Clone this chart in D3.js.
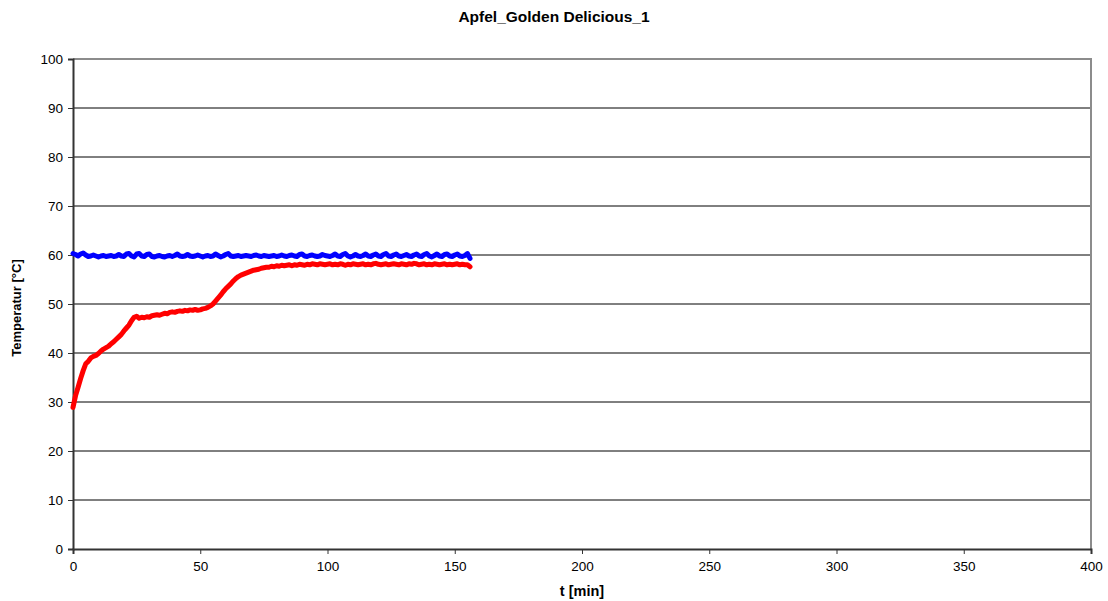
<!DOCTYPE html>
<html>
<head>
<meta charset="utf-8">
<script src="https://cdn.jsdelivr.net/npm/d3@7"></script>
<style>
  body { margin: 0; background: #fff; }
  svg { display: block; font-family: "Liberation Sans", Arial, sans-serif; }
</style>
</head>
<body>
<svg id="chart" width="1108" height="601"></svg>
<script>
// Chart text
const chartTitle = "Apfel_Golden Delicious_1";
const xTitle = "t [min]";
const yTitle = "Temperatur [°C]";

// Axis ticks
const xTicks = [0, 50, 100, 150, 200, 250, 300, 350, 400];
const yTicks = [0, 10, 20, 30, 40, 50, 60, 70, 80, 90, 100];

// Sample times, one reading per minute
const timeMin = d3.range(0, 157);

// Water bath temperature (°C)
const bathTemp = [
  60.3, 60.1, 59.8, 60.2, 60.4, 60.0, 59.7, 59.8, 60.0, 59.8,
  59.6, 59.8, 59.9, 59.7, 59.8, 59.9, 59.7, 59.8, 60.1, 59.8,
  59.7, 60.2, 60.3, 59.8, 59.6, 60.2, 60.3, 59.8, 59.7, 60.1,
  60.2, 59.7, 59.6, 59.8, 59.9, 59.7, 59.6, 59.8, 59.9, 59.7,
  59.9, 60.2, 59.8, 59.7, 59.8, 60.1, 59.8, 59.7, 59.8, 60.0,
  59.8, 59.6, 59.8, 59.9, 59.7, 59.8, 60.2, 59.9, 59.6, 59.8,
  60.1, 60.3, 59.8, 59.7, 59.8, 59.9, 59.7, 59.8, 59.9, 59.8,
  59.7, 59.9, 60.0, 59.8, 59.7, 59.9, 59.8, 59.7, 59.8, 59.9,
  59.7, 59.8, 60.0, 59.8, 59.7, 59.9, 60.0, 59.8, 59.7, 60.1,
  60.2, 59.8, 59.7, 59.9, 60.0, 59.8, 59.7, 59.8, 60.1, 59.9,
  59.8, 59.7, 59.9, 60.2, 59.8, 59.7, 60.1, 60.3, 59.8, 59.6,
  59.8, 60.1, 59.8, 59.7, 59.9, 60.2, 59.8, 59.7, 60.0, 60.2,
  59.8, 59.7, 60.1, 60.3, 59.8, 59.7, 60.0, 60.2, 59.8, 59.7,
  59.9, 60.1, 59.8, 59.7, 60.0, 60.2, 59.8, 59.7, 60.1, 60.3,
  59.8, 59.6, 59.9, 60.2, 59.8, 59.7, 60.1, 60.2, 59.8, 59.7,
  60.0, 60.2, 59.8, 59.7, 59.9, 60.3, 59.3
];

// Core temperature of the apple (°C)
const coreTemp = [
  28.9, 31.3, 33.0, 34.8, 36.4, 37.8, 38.3, 39.0, 39.3, 39.5,
  39.9, 40.4, 40.8, 41.1, 41.4, 41.9, 42.3, 42.8, 43.3, 43.8,
  44.5, 45.1, 45.7, 46.6, 47.3, 47.5, 47.1, 47.3, 47.2, 47.4,
  47.3, 47.6, 47.7, 47.8, 47.7, 47.9, 48.1, 48.0, 48.3, 48.4,
  48.3, 48.5, 48.6, 48.5, 48.7, 48.6, 48.8, 48.7, 48.9, 48.7,
  48.8, 49.0, 49.1, 49.3, 49.6, 50.0, 50.6, 51.2, 51.8, 52.5,
  53.1, 53.6, 54.1, 54.7, 55.2, 55.6, 55.9, 56.1, 56.3, 56.5,
  56.7, 56.9, 57.0, 57.1, 57.3, 57.4, 57.5, 57.5, 57.7, 57.6,
  57.8, 57.7, 57.9, 57.8, 57.9, 58.0, 57.8, 58.0, 57.9, 58.1,
  58.0, 57.9, 58.1, 58.0, 58.2, 58.1, 58.0, 58.2, 58.1, 58.0,
  58.1, 58.2, 58.0, 58.1, 58.0, 58.2, 58.1, 57.9, 58.1, 58.0,
  58.2, 58.1, 58.0, 58.1, 58.2, 58.0, 58.1, 58.0, 58.2, 58.3,
  58.1, 58.0, 58.1, 58.2, 58.0, 58.1, 58.2, 58.1, 58.0, 58.2,
  58.1, 58.0, 58.2, 58.1, 58.3, 58.2, 58.0, 58.1, 58.2, 58.0,
  58.1, 58.0, 58.2, 58.1, 58.0, 58.1, 58.2, 58.0, 58.1, 58.0,
  58.1, 58.2, 58.0, 58.1, 58.0, 58.0, 57.6
];

const margin = { left: 73, right: 17, top: 59, bottom: 52 };
const width = 1108, height = 601;
const svg = d3.select("#chart");

const x = d3.scaleLinear().domain([0, 400]).range([margin.left, width - margin.right]);
const y = d3.scaleLinear().domain([0, 100]).range([height - margin.bottom, margin.top]);

// Horizontal gridlines
svg.append("g")
  .selectAll("line")
  .data(yTicks.filter(v => v > 0 && v < 100))
  .join("line")
  .attr("x1", x(0)).attr("x2", x(400))
  .attr("y1", d => y(d)).attr("y2", d => y(d))
  .attr("stroke", "#000").attr("stroke-width", 1);

// Plot frame: grey top and right edges
svg.append("path")
  .attr("d", `M${x(0)},${y(100)}H${x(400)}V${y(0)}`)
  .attr("fill", "none").attr("stroke", "#8c8c8c").attr("stroke-width", 2);

// Axes
const yAxis = d3.axisLeft(y).tickValues(yTicks).tickSize(5).tickPadding(5).tickFormat(d3.format("d"));
const xAxis = d3.axisBottom(x).tickValues(xTicks).tickSize(5).tickPadding(7).tickFormat(d3.format("d"));

const gy = svg.append("g").attr("transform", `translate(${x(0)},0)`).call(yAxis);
const gx = svg.append("g").attr("transform", `translate(0,${y(0)})`).call(xAxis);

[gx, gy].forEach(g => {
  g.select(".domain").attr("stroke", "#333").attr("stroke-width", 2);
  g.selectAll(".tick line").attr("stroke", "#333").attr("stroke-width", 1);
  g.selectAll(".tick text").attr("fill", "#000").style("font-size", "13.5px")
    .style("font-family", "'Liberation Sans', Arial, sans-serif");
});

// Series lines
const line = vals => d3.line()
  .x((d, i) => x(timeMin[i]))
  .y(d => y(d))
  .curve(d3.curveLinear)(vals);

svg.append("path")
  .attr("d", line(bathTemp))
  .attr("fill", "none").attr("stroke", "#0000ff")
  .attr("stroke-width", 5).attr("stroke-linejoin", "round").attr("stroke-linecap", "round");

svg.append("path")
  .attr("d", line(coreTemp))
  .attr("fill", "none").attr("stroke", "#ff0000")
  .attr("stroke-width", 5).attr("stroke-linejoin", "round").attr("stroke-linecap", "round");

// Titles
svg.append("text")
  .attr("x", 554).attr("y", 22)
  .attr("text-anchor", "middle")
  .style("font-size", "15.5px").style("font-weight", "bold")
  .text(chartTitle);

svg.append("text")
  .attr("x", (x(0) + x(400)) / 2).attr("y", 596)
  .attr("text-anchor", "middle")
  .style("font-size", "14.5px").style("font-weight", "bold")
  .text(xTitle);

svg.append("text")
  .attr("transform", `translate(21,${(y(0) + y(100)) / 2 + 4}) rotate(-90)`)
  .attr("text-anchor", "middle")
  .style("font-size", "13px").style("font-weight", "bold")
  .text(yTitle);
</script>
</body>
</html>
